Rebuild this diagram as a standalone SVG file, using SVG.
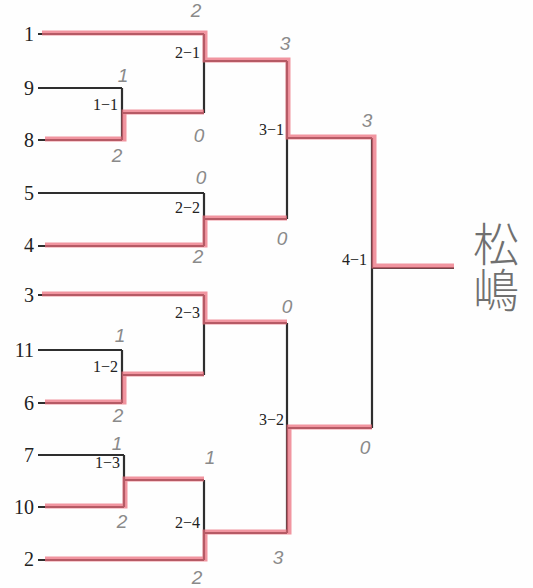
<svg xmlns="http://www.w3.org/2000/svg" width="533" height="588" viewBox="0 0 533 588">
<style>
.ln{fill:none;stroke:#2e2e2e;stroke-width:2.2;stroke-linejoin:miter}
.hl{fill:none;stroke:#ec6c7c;stroke-opacity:0.72;stroke-width:5;stroke-linejoin:miter}
.seed{font-family:"Liberation Serif",serif;font-size:20px;fill:#222;text-anchor:end}
.lbl{font-family:"Liberation Serif",serif;font-size:16px;fill:#222;text-anchor:end}
.sc{font-family:"Liberation Sans",sans-serif;font-style:italic;font-size:19px;fill:#8a8a8a;text-anchor:middle}
.win{font-family:"Noto Sans CJK JP","Noto Sans CJK SC",sans-serif;font-weight:300;font-size:46px;fill:#707070;text-anchor:middle;writing-mode:vertical-rl}
</style>
<rect width="533" height="588" fill="#fefefe"/>
<g id="connectors">
<path class="ln" d="M38,34 H204 M38,88 H122 M38,140 H122 M122,88 V140 M122,113 H204 M204,34 V113 M204,61 H287 M38,193 H204 M38,246 H204 M204,193 V246 M204,219 H287 M287,61 V219 M287,138 H372 M38,295 H204 M38,350 H122 M38,403 H122 M122,350 V403 M122,375 H204 M204,295 V375 M204,323 H287 M38,455 H124 M38,507 H124 M124,455 V507 M124,480 H204 M38,560 H204 M204,480 V560 M204,533 H287 M287,323 V533 M287,428 H372 M372,138 V428 M372,268 H454"/>
<path class="hl" d="M42,33 H205 V60 H288 V137 H374 V266 H454"/>
<path class="hl" d="M45,139 H124 V112 H204"/>
<path class="hl" d="M45,245 H205 V218 H287"/>
<path class="hl" d="M42,294 H205 V322 H287"/>
<path class="hl" d="M45,402 H124 V374 H204"/>
<path class="hl" d="M45,506 H125 V479 H204"/>
<path class="hl" d="M45,559 H205 V532 H289 V427 H372"/>
</g>
<g id="seed-1"><text class="seed" x="34" y="41">1</text></g>
<g id="seed-9"><text class="seed" x="34" y="95">9</text></g>
<g id="seed-8"><text class="seed" x="34" y="147">8</text></g>
<g id="seed-5"><text class="seed" x="34" y="200">5</text></g>
<g id="seed-4"><text class="seed" x="34" y="252">4</text></g>
<g id="seed-3"><text class="seed" x="34" y="302">3</text></g>
<g id="seed-11"><text class="seed" x="34" y="357">11</text></g>
<g id="seed-6"><text class="seed" x="34" y="410">6</text></g>
<g id="seed-7"><text class="seed" x="34" y="462">7</text></g>
<g id="seed-10"><text class="seed" x="34" y="514">10</text></g>
<g id="seed-2"><text class="seed" x="34" y="566">2</text></g>
<g id="match-1-1"><text class="lbl" x="118" y="110">1−1</text><text class="sc" x="123" y="82">1</text><text class="sc" x="117" y="162">2</text></g>
<g id="match-2-1"><text class="lbl" x="200" y="58">2−1</text><text class="sc" x="196" y="17">2</text><text class="sc" x="199" y="142">0</text></g>
<g id="match-2-2"><text class="lbl" x="200" y="213">2−2</text><text class="sc" x="201" y="184">0</text><text class="sc" x="198" y="263">2</text></g>
<g id="match-3-1"><text class="lbl" x="284" y="135">3−1</text><text class="sc" x="285" y="50">3</text><text class="sc" x="282" y="245">0</text></g>
<g id="match-1-2"><text class="lbl" x="118" y="372">1−2</text><text class="sc" x="120" y="342">1</text><text class="sc" x="118" y="422">2</text></g>
<g id="match-2-3"><text class="lbl" x="200" y="318">2−3</text></g>
<g id="match-1-3"><text class="lbl" x="120" y="468">1−3</text><text class="sc" x="117" y="450">1</text><text class="sc" x="122" y="528">2</text></g>
<g id="match-2-4"><text class="lbl" x="200" y="528">2−4</text><text class="sc" x="210" y="464">1</text><text class="sc" x="197" y="584">2</text></g>
<g id="match-3-2"><text class="lbl" x="284" y="425">3−2</text><text class="sc" x="287" y="313">0</text><text class="sc" x="278" y="564">3</text></g>
<g id="match-4-1"><text class="lbl" x="367" y="265">4−1</text><text class="sc" x="367" y="127">3</text><text class="sc" x="365" y="454">0</text></g>
<g id="winner"><text class="win" x="496" y="267">松嶋</text></g>
</svg>
